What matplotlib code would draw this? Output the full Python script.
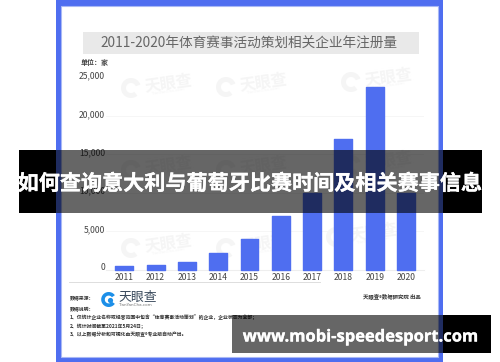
import matplotlib
matplotlib.use("Agg")
import matplotlib.pyplot as plt
import matplotlib.patheffects as pe
from matplotlib.patches import Rectangle, Wedge, Circle
from matplotlib.transforms import ScaledTranslation

plt.rcParams['font.family'] = ['Noto Sans CJK SC', 'DejaVu Sans']

years = ['2011','2012','2013','2014','2015','2016','2017','2018','2019','2020']
values = [450, 620, 940, 2190, 4010, 6930, 9900, 16950, 23720, 9900]
yticks = [0, 5000, 10000, 15000, 20000, 25000]
ytick_labels = ['0', '5,000', '10,000', '15,000', '20,000', '25,000']
title = '2011-2020年体育赛事活动策划相关企业年注册量'
unit = '单位：家'
banner_top = '如何查询意大利与葡萄牙比赛时间及相关赛事信息'
banner_bottom = 'www.mobi-speedesport.com'
source_label = '数据来源：'
note_lines = ['数据说明：',
              '1、仅统计企业名称或经营范围中包含“体育赛事活动策划”的企业，企业状态为全部；',
              '2、统计时间截至2021年5月24日；',
              '3、以上数据分析和可视化由天眼查®专业版自动产出。']
credit = '天眼查®数据研究院 出品'
watermarks = [(168, 83), (263, 82), (388, 77), (168, 165), (263, 165), (388, 160),
              (168, 243), (263, 243), (373, 232)]

W, H = 500, 362
BLUE = '#4f6ef0'
WM = '#f5f5f5'
fig = plt.figure(figsize=(W/100, H/100), dpi=100, facecolor='white')

bg = fig.add_axes([0, 0, 1, 1], zorder=0)
bg.set_xlim(0, W); bg.set_ylim(H, 0); bg.axis('off')
bg.add_patch(Rectangle((56, -2), 387, 364, fc=BLUE, ec='none'))
bg.add_patch(Rectangle((61, 5.5), 377, 351, fc='white', ec='#a9b8f5', lw=0.8))
bg.add_patch(Rectangle((82.5, 31.5), 336.5, 22.5, fc='#e9e9e9', ec='none'))
bg.text(249, 43.5, title, ha='center', va='center', fontsize=9.85, color='#666666')
bg.text(81, 62, unit, ha='left', va='center', fontsize=5.0, color='#444444', fontweight='bold')
for x, y in watermarks:
    bg.text(x, y, '天眼查', ha='center', va='center', fontsize=11.5, color=WM,
            rotation=8, fontweight='bold')
    bg.text(x, y + 9, 'TianYanCha.com', ha='center', va='center', fontsize=3, color=WM,
            rotation=8, family='DejaVu Sans')
    bg.add_patch(Wedge((x - 37, y + 5), 10, 50, 340, width=5, fc=WM, ec='none'))

x0, x1 = 106, 424
ax = fig.add_axes([x0/W, 1-269.5/H, (x1-x0)/W, (269.5-77.5)/H], zorder=1)
ax.patch.set_alpha(0)
pos = list(range(len(years)))
step = 31.3
ax.set_xlim((x0-124.3)/step, (x1-124.3)/step)
ax.set_ylim(0, 25000)
ax.bar(pos, values, width=0.57, color=BLUE, edgecolor=BLUE, linewidth=1.0,
       joinstyle='round', zorder=3, clip_on=False)
ax.set_yticks(yticks)
ax.set_yticklabels(ytick_labels, fontsize=6.2, color='#444444')
ax.set_xticks(pos)
ax.set_xticklabels(years, fontsize=6.2, color='#444444')
ax.tick_params(axis='x', length=0, pad=2.5)
ax.tick_params(axis='y', length=0, pad=0.7)
shift = ScaledTranslation(0, 2.5/100, fig.dpi_scale_trans)
for lab in ax.get_yticklabels():
    lab.set_transform(lab.get_transform() + shift)
ax.grid(axis='y', color='#f5f5f5', lw=0.6, zorder=0)
ax.set_axisbelow(True)
for s in ['top', 'right', 'left']:
    ax.spines[s].set_visible(False)
ax.spines['bottom'].set_color('#eeeeee')

ov = fig.add_axes([0, 0, 1, 1], zorder=2)
ov.set_xlim(0, W); ov.set_ylim(H, 0); ov.axis('off'); ov.patch.set_alpha(0)
ov.plot([69, 320], [282, 282], color='#dddddd', lw=0.7)
ov.text(70, 298, source_label, fontsize=3.5, va='center', color='#333333', fontweight='bold')
ov.add_patch(Wedge((108.7, 299.5), 7.5, 35, 325, width=3.6, fc='#1c8fe8', ec='none'))
ov.add_patch(Circle((110.5, 300.5), 2.6, fc='#1c8fe8', ec='none'))
ov.text(118, 297, '天眼查', fontsize=9.3, va='center', ha='left', color='#3a4a5c')
ov.text(118.5, 304.8, 'TianYanCha.com', fontsize=3, va='center', ha='left', color='#777777',
        family='DejaVu Sans')
for ln, yy in zip(note_lines, [308.7, 317.5, 326, 335]):
    ov.text(70, yy, ln, fontsize=3.5, va='center', color='#333333', fontweight='bold')
ov.text(421, 296.8, credit, fontsize=3.9, va='center', ha='right', color='#333333', fontweight='bold')

stroke = [pe.withStroke(linewidth=0.2, foreground='white')]
ov.add_patch(Rectangle((19, 150), 463, 63, fc='black', alpha=0.6, ec='none', zorder=5))
ov.add_patch(Rectangle((19, 150), 37, 63, fc='black', ec='none', zorder=5))
ov.add_patch(Rectangle((443, 150), 39, 63, fc='black', ec='none', zorder=5))
ov.text(250, 183.5, banner_top, ha='center', va='center', fontsize=15.2, color='white',
        fontweight='bold', zorder=6, path_effects=stroke)
ov.add_patch(Rectangle((232, 315), 259, 38, fc='black', alpha=0.6, ec='none', zorder=5))
ov.add_patch(Rectangle((443, 315), 48, 38, fc='black', ec='none', zorder=5))
ov.text(360.5, 336.5, banner_bottom, ha='center', va='center', fontsize=11.9, color='white',
        fontweight='bold', zorder=6, family='Open Sans', path_effects=stroke)

fig.savefig('out.png', dpi=100)
